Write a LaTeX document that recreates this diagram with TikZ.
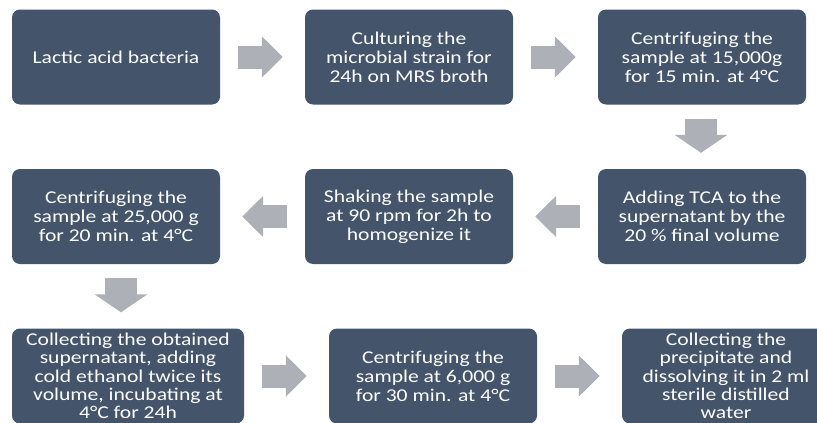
\documentclass[tikz,border=0pt]{standalone}
\usepackage{fontspec}
\setmainfont{Carlito}[FakeStretch=1.2]
\usepackage{tikz}
\usetikzlibrary{arrows.meta, positioning}
\definecolor{boxblue}{HTML}{44546A}
\definecolor{arrowgray}{HTML}{ADB0B6}

\begin{document}
\begin{tikzpicture}[
    x=1pt, y=-1pt,
    every node/.style={font=\fontsize{18}{19}\selectfont, text=white},
    stepbox/.style={fill=boxblue, rounded corners=8pt, minimum width=208pt,
        minimum height=95pt, align=center, inner sep=0pt},
    tightbox/.style={stepbox, font=\fontsize{18}{18.3}\selectfont, text depth=0pt},
    flow/.style={arrowgray, line width=23pt, -{Triangle[length=21pt,width=40pt]},
        shorten <=18pt, shorten >=22pt},
    flowdown/.style={arrowgray, line width=32pt, -{Triangle[length=18pt,width=52pt]},
        shorten <=14pt, shorten >=16pt}
]
    \useasboundingbox (0,0) rectangle (817,423);

    % First row, left to right
    \node[stepbox] (bact) at (116,57) {Lactic acid bacteria};
    \node[stepbox] (cult) at (409,57) {Culturing the\\microbial strain for\\24h on MRS broth};
    \node[stepbox] (cent1) at (702,57) {Centrifuging the\\sample at 15,000g\\for 15 min. at 4°C};

    % Second row, right to left
    \node[stepbox] (tca) at (702,216.5) {Adding TCA to the\\supernatant by the\\20 \% final volume};
    \node[stepbox] (shake) at (409,216.5) {Shaking the sample\\at 90 rpm for 2h to\\homogenize it};
    \node[stepbox] (cent2) at (116,216.5) {Centrifuging the\\sample at 25,000 g\\for 20 min. at 4°C};

    % Third row, left to right
    \node[tightbox, minimum width=232pt] (coll) at (128,376) {Collecting the obtained\\supernatant, adding\\cold ethanol twice its\\volume, incubating at\\4°C for 24h};
    \node[stepbox] (cent3) at (433,376) {Centrifuging the\\sample at 6,000 g\\for 30 min. at 4°C};
    \node[tightbox] (prec) at (726,376) {Collecting the\\precipitate and\\dissolving it in 2 ml\\sterile distilled\\water};

    % Block arrows between the steps
    \path[flow]
        (bact) edge (cult)
        (cult) edge (cent1)
        (tca) edge (shake)
        (shake) edge (cent2)
        (coll) edge (cent3)
        (cent3) edge (prec);
    \draw[flowdown] ([xshift=-1pt]cent1.south) -- ([xshift=-1pt]cent1.south |- tca.north);
    \draw[flowdown] ([xshift=5pt]cent2.south) -- ([xshift=5pt]cent2.south |- coll.north);
\end{tikzpicture}
\end{document}
